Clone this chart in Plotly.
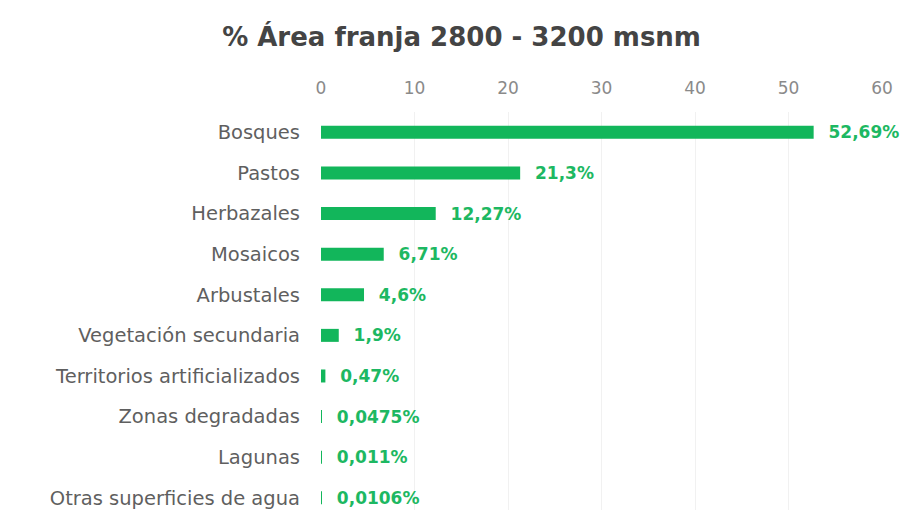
import plotly.graph_objects as go

categories = ["Bosques", "Pastos", "Herbazales", "Mosaicos", "Arbustales",
              "Vegetación secundaria", "Territorios artificializados",
              "Zonas degradadas", "Lagunas", "Otras superficies de agua"]
values = [52.69, 21.3, 12.27, 6.71, 4.6, 1.9, 0.47, 0.0475, 0.011, 0.0106]
labels = ["52,69%", "21,3%", "12,27%", "6,71%", "4,6%", "1,9%", "0,47%",
          "0,0475%", "0,011%", "0,0106%"]
x_ticks = [0, 10, 20, 30, 40, 50, 60]

FONT = "DejaVu Sans, sans-serif"

fig = go.Figure(go.Bar(
    x=values, y=categories, orientation="h",
    marker=dict(color="#12b65b", line=dict(width=0)),
    text=["  " + t for t in labels], textposition="outside",
    constraintext="none",
    textfont=dict(family=FONT, size=17, color="#1db862", weight="bold"),
    cliponaxis=False, width=0.32,
))

fig.update_layout(
    width=914, height=510,
    margin=dict(l=321, r=32, t=112, b=0),
    paper_bgcolor="white", plot_bgcolor="white",
    title=dict(text="<b>% Área franja 2800 - 3200 msnm</b>", x=0.505, xanchor="center",
               y=0.928, yanchor="middle",
               font=dict(family=FONT, size=26, color="#444444")),
    showlegend=False,
    xaxis=dict(side="top", range=[0, 60], tickvals=x_ticks,
               showgrid=True, gridcolor="#f1f1f1", gridwidth=1,
               zeroline=False, showline=False, ticks="",
               ticklabelstandoff=14,
               tickfont=dict(family=FONT, size=17, color="#8a8a8a")),
    yaxis=dict(range=[9.3, -0.5], showgrid=False, zeroline=False, ticks="",
               ticklabelstandoff=20,
               tickfont=dict(family=FONT, size=19.5, color="#5f5f5f")),
    font=dict(family=FONT),
)

fig.write_html("out.html")
